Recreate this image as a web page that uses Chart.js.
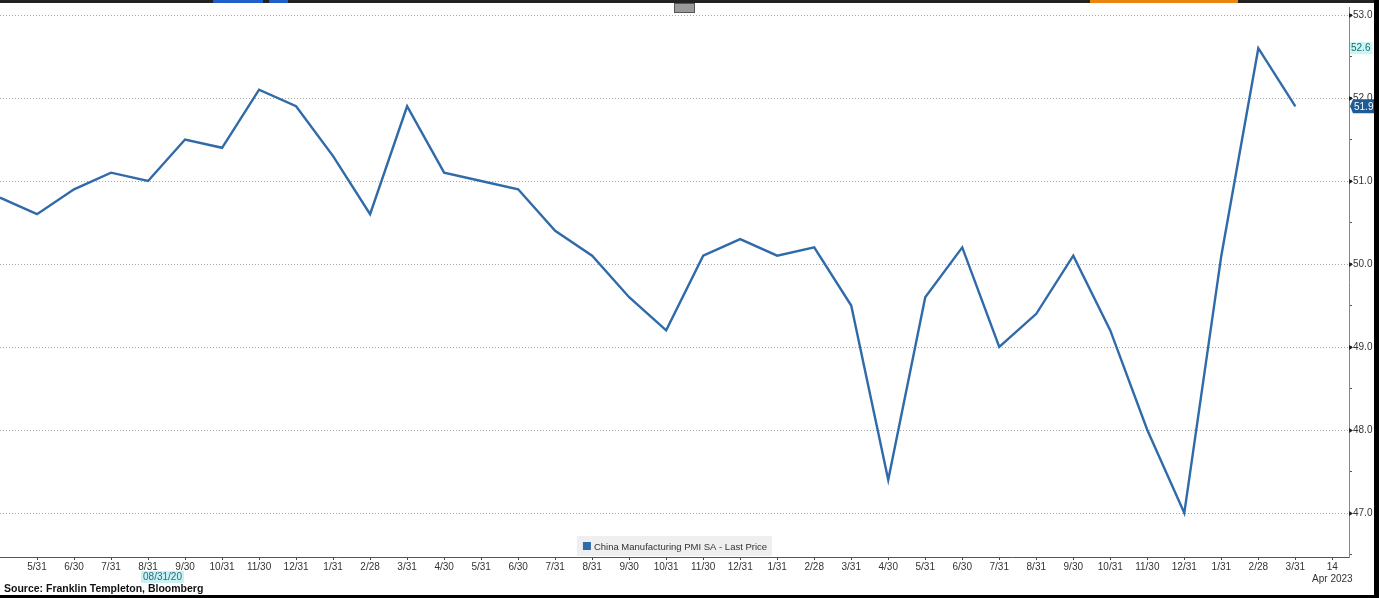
<!DOCTYPE html>
<html>
<head>
<meta charset="utf-8">
<script src="https://cdn.jsdelivr.net/npm/chart.js@4"></script>
<style>
  html, body { margin: 0; padding: 0; background: #fff; }
  body { width: 1379px; height: 598px; position: relative; overflow: hidden; font-family: "Liberation Sans", Arial, sans-serif; }
  #wrap { position: absolute; left: 0; top: 0; width: 1379px; height: 598px; }
  .bar { position: absolute; }
</style>
</head>
<body>
<div id="wrap"><canvas id="c" width="1379" height="598"></canvas></div>
<div class="bar" style="left:0;top:0;width:1379px;height:3px;background:#232323"></div>
<div class="bar" style="left:213px;top:0;width:50px;height:3px;background:#1f5fc8"></div>
<div class="bar" style="left:269px;top:0;width:19px;height:3px;background:#1f5fc8"></div>
<div class="bar" style="left:1090px;top:0;width:148px;height:3px;background:#e8860f"></div>
<div class="bar" style="left:674px;top:3px;width:21px;height:10px;background:#9a9a9a;border:1px solid #555;box-sizing:border-box"></div>
<div class="bar" style="left:1374px;top:0;width:5px;height:598px;background:#000"></div>
<div class="bar" style="left:0;top:595px;width:1379px;height:3px;background:#000"></div>
<script>
// ---- data ----
const seriesLabel = 'China Manufacturing PMI SA - Last Price';
const pmiValues = [50.8, 50.6, 50.9, 51.1, 51.0, 51.5, 51.4, 52.1, 51.9, 51.3, 50.6, 51.9,
                   51.1, 51.0, 50.9, 50.4, 50.1, 49.6, 49.2, 50.1, 50.3, 50.1, 50.2, 49.5,
                   47.4, 49.6, 50.2, 49.0, 49.4, 50.1, 49.2, 48.0, 47.0, 50.1, 52.6, 51.9];
const xTickLabels = ['5/31','6/30','7/31','8/31','9/30','10/31','11/30','12/31','1/31','2/28','3/31','4/30',
                     '5/31','6/30','7/31','8/31','9/30','10/31','11/30','12/31','1/31','2/28','3/31','4/30',
                     '5/31','6/30','7/31','8/31','9/30','10/31','11/30','12/31','1/31','2/28','3/31',
                     ['14','Apr 2023']];
const yTickValues = [47, 48, 49, 50, 51, 52, 53];
const crosshairLabel = '08/31/20';
const crosshairIndex = 4;
const highlightValue = 52.6;
const lastValue = 51.9;

const FONT = '"Liberation Sans", Arial, sans-serif';
const LINE = '#2f6aa9';

const overlay = {
  id: 'overlay',
  beforeDatasetsDraw(chart) {
    const {ctx, chartArea: a, scales: {y}} = chart;
    ctx.save();
    ctx.strokeStyle = '#a8a8a8';
    ctx.lineWidth = 1;
    ctx.setLineDash([1, 2]);
    yTickValues.forEach(v => {
      const py = Math.round(y.getPixelForValue(v)) + 0.5;
      ctx.beginPath(); ctx.moveTo(a.left, py); ctx.lineTo(a.right, py); ctx.stroke();
    });
    ctx.restore();
  },
  afterDraw(chart) {
    const {ctx, chartArea: a, scales: {x, y}} = chart;
    ctx.save();
    // tick arrows on right axis
    ctx.fillStyle = '#222';
    yTickValues.forEach(v => {
      const py = Math.round(y.getPixelForValue(v)) + 0.5;
      ctx.beginPath(); ctx.moveTo(a.right, py - 2.5); ctx.lineTo(a.right + 4, py); ctx.lineTo(a.right, py + 2.5); ctx.fill();
    });
    // legend box
    const label = chart.data.datasets[0].label;
    ctx.font = '9.5px ' + FONT;
    const tw = ctx.measureText(label).width;
    const bw = tw + 22, bh = 20;
    const bx = (a.left + a.right) / 2 - bw / 2, by = a.bottom - bh - 1;
    ctx.fillStyle = '#efefef';
    ctx.fillRect(bx, by, bw, bh);
    ctx.fillStyle = LINE;
    ctx.fillRect(bx + 6, by + 6, 8, 8);
    ctx.fillStyle = '#333';
    ctx.textBaseline = 'middle';
    ctx.textAlign = 'left';
    ctx.fillText(label, bx + 17, by + bh / 2 + 1);
    // crosshair date tag
    const cx = x.getPixelForValue(crosshairIndex);
    ctx.font = '10px ' + FONT;
    const cw = ctx.measureText(crosshairLabel).width;
    ctx.fillStyle = '#c9f1f3';
    ctx.fillRect(cx - 7, 571, cw + 4, 12);
    ctx.fillStyle = '#2a6f80';
    ctx.fillText(crosshairLabel, cx - 5, 577.5);
    // 52.6 highlight on axis
    const hy = y.getPixelForValue(highlightValue);
    const hw = ctx.measureText(highlightValue.toFixed(1)).width;
    ctx.fillStyle = '#c9f5f5';
    ctx.fillRect(a.right + 1, hy - 6, hw + 3, 12);
    ctx.fillStyle = '#1a6a6a';
    ctx.fillText(highlightValue.toFixed(1), a.right + 2, hy + 0.5);
    // last value tag
    const ly = y.getPixelForValue(lastValue);
    ctx.fillStyle = '#1e5b93';
    ctx.beginPath();
    ctx.moveTo(a.right + 1, ly);
    ctx.lineTo(a.right + 4, ly - 7);
    ctx.lineTo(a.right + 27, ly - 7);
    ctx.lineTo(a.right + 27, ly + 7);
    ctx.lineTo(a.right + 4, ly + 7);
    ctx.closePath();
    ctx.fill();
    ctx.fillStyle = '#fff';
    ctx.fillText(lastValue.toFixed(1), a.right + 5, ly + 0.5);
    // source
    ctx.font = 'bold 10.5px ' + FONT;
    ctx.fillStyle = '#111';
    ctx.fillText('Source: Franklin Templeton, Bloomberg', 4, 589.5);
    ctx.restore();
  }
};

new Chart(document.getElementById('c'), {
  type: 'line',
  data: {
    datasets: [{
      label: seriesLabel,
      data: pmiValues.map((v, i) => ({x: i, y: v})),
      borderColor: LINE,
      backgroundColor: LINE,
      borderWidth: 2.4,
      pointRadius: 0,
      tension: 0,
      fill: false,
      clip: false
    }]
  },
  options: {
    responsive: false,
    animation: false,
    devicePixelRatio: 1,
    layout: { padding: { left: 0, right: 0, top: 4, bottom: 0 } },
    plugins: { legend: { display: false }, tooltip: { enabled: false } },
    scales: {
      x: {
        type: 'linear',
        min: 0,
        max: 36.45,
        afterBuildTicks: s => { s.ticks = xTickLabels.map((_, i) => ({value: i + 1})); },
        afterFit: s => { s.height = 41; },
        ticks: {
          autoSkip: false,
          maxRotation: 0,
          padding: 1,
          color: '#333',
          font: { family: FONT, size: 10 },
          callback: v => xTickLabels[v - 1]
        },
        grid: { drawOnChartArea: false, drawTicks: true, tickLength: 3, color: '#444' },
        border: { display: true, color: '#555', width: 1 }
      },
      y: {
        position: 'right',
        min: 46.47,
        max: 53.096,
        afterBuildTicks: s => {
          const t = [];
          for (let v = 46.5; v <= 53.01; v += 0.5) t.push({value: Math.round(v * 10) / 10});
          s.ticks = t;
        },
        afterFit: s => { s.width = 30; },
        ticks: {
          padding: 1,
          color: '#333',
          font: { family: FONT, size: 10 },
          callback: v => (Number.isInteger(v) ? v.toFixed(1) : '')
        },
        grid: { drawOnChartArea: false, drawTicks: true, tickLength: 3, color: '#555' },
        border: { display: true, color: '#888', width: 1 }
      }
    }
  },
  plugins: [overlay]
});
</script>
</body>
</html>
